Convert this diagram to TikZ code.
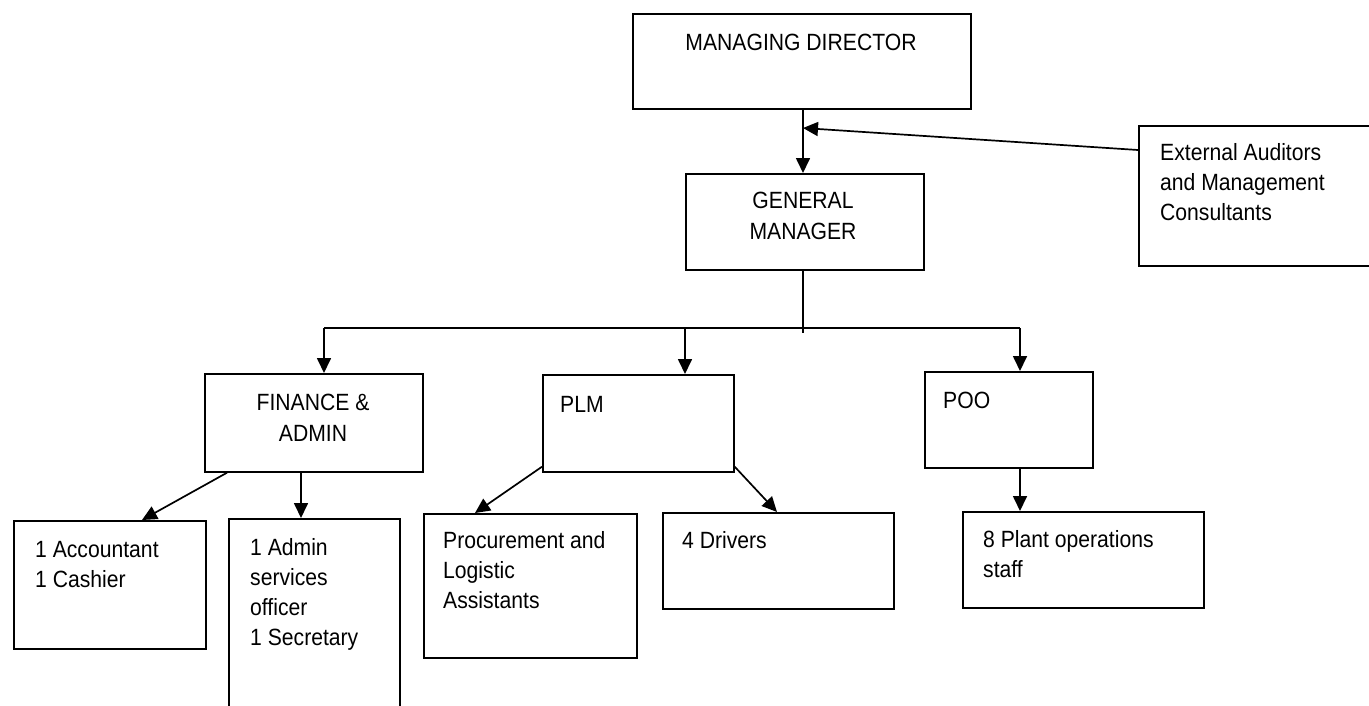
\documentclass[tikz,border=0pt]{standalone}
\usepackage{fontspec}
\setmainfont{Liberation Sans}[FakeStretch=0.9]
\usetikzlibrary{arrows.meta}
\begin{document}
\begin{tikzpicture}[x=1pt,y=-1pt,
  box/.style={draw, line width=1.7pt, inner sep=0pt, anchor=north west},
  lbl/.style={font=\fontsize{23.5}{30}\selectfont, inner sep=0pt, anchor=base west, align=left},
  clbl/.style={font=\fontsize{23.5}{31}\selectfont, inner sep=0pt, anchor=base, align=center},
  conn/.style={line width=1.7pt},
  arr/.style={conn, -{Triangle[length=15pt,width=14pt]}}]
\useasboundingbox (0,0) rectangle (1369,705);
\clip (0,0) rectangle (1369,705);
\fill[white] (0,0) rectangle (1369,705);
% boxes
\node[box, minimum width=338pt, minimum height=95pt] (md) at (632,13) {};
\node[box, minimum width=238pt, minimum height=96pt] (gm) at (685,173) {};
\node[box, minimum width=250pt, minimum height=140pt] (ext) at (1138,125) {};
\node[box, minimum width=218pt, minimum height=98pt] (fa) at (204,373) {};
\node[box, minimum width=191pt, minimum height=97pt] (plm) at (542,374) {};
\node[box, minimum width=168pt, minimum height=96pt] (poo) at (924,371) {};
\node[box, minimum width=192pt, minimum height=128pt] (acc) at (13,520) {};
\node[box, minimum width=171pt, minimum height=200pt] (adm) at (228,518) {};
\node[box, minimum width=213pt, minimum height=144pt] (proc) at (423,513) {};
\node[box, minimum width=231pt, minimum height=96pt] (drv) at (662,512) {};
\node[box, minimum width=241pt, minimum height=96pt] (plant) at (962,511) {};
% texts (anchor base = baseline of the last line)
\node[clbl] (tmd) at (801,50) {MANAGING DIRECTOR};
\node[clbl] (tgm) at (803,239) {GENERAL\\MANAGER};
\node[lbl] (text) at (1160,220) {External Auditors\\and Management\\Consultants};
\node[clbl] (tfa) at (313,441) {FINANCE \&\\ADMIN};
\node[lbl] (tplm) at (560,412) {PLM};
\node[lbl] (tpoo) at (943,408) {POO};
\node[lbl] (tacc) at (35,587) {1 Accountant\\1 Cashier};
\node[lbl] (tadm) at (250,645) {1 Admin\\services\\officer\\1 Secretary};
\node[lbl] (tproc) at (443,608) {Procurement and\\Logistic\\Assistants};
\node[lbl] (tdrv) at (682,548) {4 Drivers};
\node[lbl] (tplant) at (983,577) {8 Plant operations\\staff};
% connector points
\coordinate (trunk) at (803,128);
\coordinate (extin) at (1138,150);
\coordinate (busL) at (324,328);
\coordinate (busM) at (685,328);
\coordinate (busR) at (1020,328);
\coordinate (busEnd) at (803,333);
% connectors
\draw[arr] (trunk |- md.south) -- (trunk |- gm.north);
\draw[arr] (extin) -- (trunk);
\draw[conn] (trunk |- gm.south) -- (busEnd);
\draw[conn] (busL) -- (busR);
\draw[arr] (busL) -- (busL |- fa.north);
\draw[arr] (busM) -- (busM |- plm.north);
\draw[arr] (busR) -- (busR |- poo.north);
\draw[arr] ([xshift=23pt]fa.south west) -- ([xshift=129pt]acc.north west);
\draw[arr] ([xshift=73pt]adm.north west |- fa.south) -- ([xshift=73pt]adm.north west);
\draw[arr] ([yshift=6pt]plm.south west) -- ([xshift=52pt]proc.north west);
\draw[arr] ([yshift=6pt]plm.south east) -- ([xshift=115pt]drv.north west);
\draw[arr] (busR |- poo.south) -- (busR |- plant.north);
\end{tikzpicture}
\end{document}
